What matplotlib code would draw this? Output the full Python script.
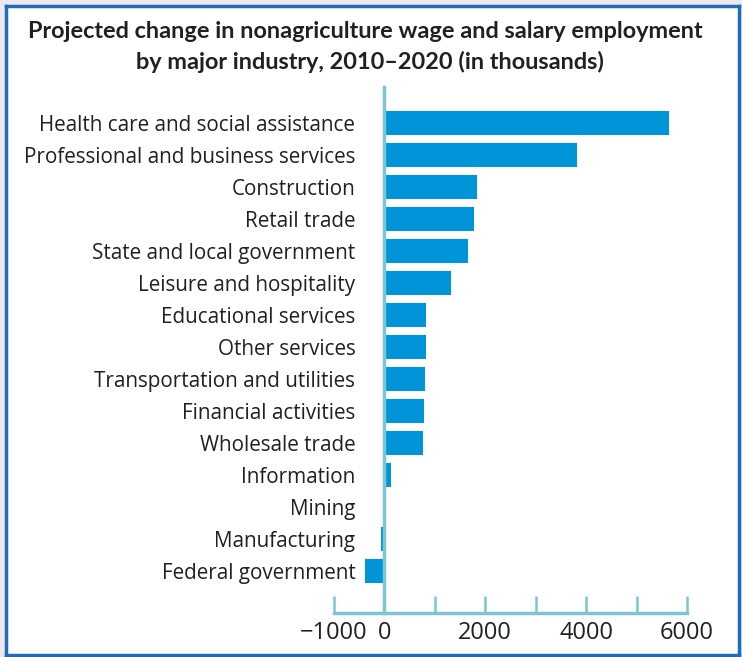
import matplotlib
matplotlib.use("Agg")
import matplotlib.pyplot as plt
import numpy as np

# values (thousands of jobs, 2010-2020)
industries = [
    "Health care and social assistance",
    "Professional and business services",
    "Construction",
    "Retail trade",
    "State and local government",
    "Leisure and hospitality",
    "Educational services",
    "Other services",
    "Transportation and utilities",
    "Financial activities",
    "Wholesale trade",
    "Information",
    "Mining",
    "Manufacturing",
    "Federal government",
]
change = [5634, 3815, 1835, 1769, 1650, 1330, 822, 815, 810, 783, 761, 132, 14, -73, -376]

tick_values = [-1000, 0, 1000, 2000, 3000, 4000, 5000, 6000]
tick_labels = ["\u22121000", "0", "", "2000", "", "4000", "", "6000"]

title_lines = ["Projected change in nonagriculture wage and salary employment",
               "by major industry, 2010\u20132020 (in thousands)"]

bar_color = "#0095d8"
axis_color = "#7cc6d4"
text_color = "#231f20"

fig = plt.figure(figsize=(7.42, 6.57), dpi=100, facecolor="#efe6ee")

# white panel with blue frame
panel = fig.add_axes([0.008, 0.003, 0.988, 0.988])
panel.set_xticks([])
panel.set_yticks([])
panel.set_facecolor("white")
for s in panel.spines.values():
    s.set_color("#1f6db8")
    s.set_linewidth(2.5)

fig.text(0.493, 1 - 31 / 657, title_lines[0], ha="center", va="center", fontsize=16.9,
         fontweight="bold", family="Lato", color=text_color)
fig.text(0.4985, 1 - 62 / 657, title_lines[1], ha="center", va="center", fontsize=16.9,
         fontweight="bold", family="Lato", color=text_color)

ax = fig.add_axes([334 / 742, 44 / 657, (687 - 334) / 742, (613 - 87) / 657])
ax.set_facecolor("none")

# spine moves reset the ticks, so do it before styling the labels
ax.spines["top"].set_visible(False)
ax.spines["right"].set_visible(False)
ax.spines["left"].set_position(("data", 0))
ax.spines["left"].set_color(axis_color)
ax.spines["left"].set_linewidth(2.5)
ax.spines["left"].set_zorder(3)
ax.spines["bottom"].set_color(axis_color)
ax.spines["bottom"].set_linewidth(2.5)

n = len(industries)
ypos = np.arange(n)[::-1]
ax.barh(ypos, change, height=0.75, color=bar_color, zorder=1)

ax.set_xlim(-1000, 6000)
ax.set_ylim(-1.3125, n - 1 + 1.125)

ax.set_yticks(ypos, industries)
ax.set_xticks(tick_values, tick_labels)

ax.tick_params(axis="y", length=0, pad=21, labelsize=14.9,
               labelcolor=text_color, labelfontfamily="Open Sans")
ax.tick_params(axis="x", direction="in", length=12, width=1.8, color=axis_color,
               pad=6, labelsize=17, labelcolor=text_color, labelfontfamily="Open Sans")
for lbl in ax.get_yticklabels():
    lbl.set_y(lbl.get_position()[1])

fig.savefig("out.png", dpi=100, facecolor=fig.get_facecolor())
